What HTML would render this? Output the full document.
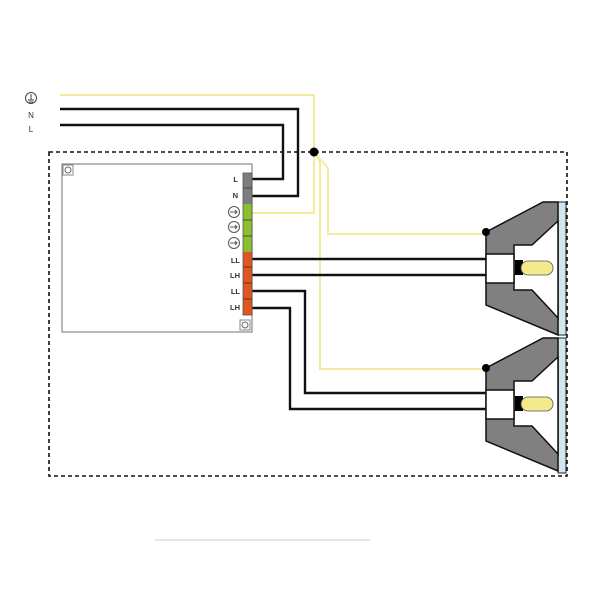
<!DOCTYPE html>
<html><head><style>body{margin:0;background:#fff}</style></head><body>
<svg width="600" height="600" viewBox="0 0 600 600" xmlns="http://www.w3.org/2000/svg" font-family="Liberation Sans, sans-serif">
<rect width="600" height="600" fill="#fff"/>
<!-- mains labels -->
<circle cx="31" cy="98" r="5.5" fill="none" stroke="#444" stroke-width="1"/>
<path d="M31 94v6M28 100h6M29 102h4" stroke="#444" stroke-width="1"/>
<text x="31" y="118" font-size="8" text-anchor="middle" fill="#333">N</text>
<text x="31" y="132" font-size="8" text-anchor="middle" fill="#333">L</text>
<!-- dashed box -->
<rect x="49" y="152" width="518" height="324" fill="none" stroke="#111" stroke-width="1.6" stroke-dasharray="4,3"/>
<!-- yellow wires -->
<g fill="none" stroke="#f3ec9c" stroke-width="2">
<path d="M60 95H314V213H252"/>
<path d="M314 152L328 168V234H486"/>
<path d="M314 152L320 162V369H486"/>
</g>
<circle cx="314" cy="152" r="4.5" fill="#000"/>
<!-- black mains -->
<g fill="none" stroke="#111" stroke-width="2.4">
<path d="M60 109H298V196H250"/>
<path d="M60 125H283V179H250"/>
<path d="M250 259H486M250 275H486"/>
<path d="M250 291H305V393H486"/>
<path d="M250 308H290V409H486"/>
</g>
<!-- module -->
<rect x="62" y="164" width="190" height="168" fill="#fff" stroke="#888" stroke-width="1.2"/>
<rect x="63" y="165" width="10" height="10" fill="#fff" stroke="#888"/><circle cx="68" cy="170" r="3" fill="none" stroke="#666"/>
<rect x="240" y="320" width="10" height="10" fill="#fff" stroke="#888"/><circle cx="245" cy="325" r="3" fill="none" stroke="#666"/>
<rect x="243" y="173" width="9" height="31" fill="#7d7d7d"/>
<rect x="243" y="204" width="9" height="48" fill="#8cbe2f"/>
<rect x="243" y="252" width="9" height="63" fill="#e0561e"/>
<path d="M243 188h9M243 220h9M243 236h9M243 267h9M243 283h9M243 299h9" stroke="#333" stroke-width="0.8"/>
<rect x="243" y="173" width="9" height="142" fill="none" stroke="#555" stroke-width="0.8"/>
<g font-size="7.5" fill="#333" text-anchor="end" font-weight="bold">
<text x="238" y="182">L</text><text x="238" y="198">N</text>
<text x="240" y="263">LL</text><text x="240" y="278">LH</text><text x="240" y="294">LL</text><text x="240" y="310">LH</text>
</g>
<g fill="none" stroke="#555" stroke-width="1">
<circle cx="234" cy="212" r="5.5"/><circle cx="234" cy="227" r="5.5"/><circle cx="234" cy="243" r="5.5"/>
<path d="M230 212h7M235 210l2 2-2 2M230 227h7M235 225l2 2-2 2M230 243h7M235 241l2 2-2 2"/>
</g>
<!-- glass -->
<rect x="558" y="202" width="8" height="133" fill="#cfe8f0" stroke="#222" stroke-width="1"/>
<rect x="558" y="338" width="8" height="135" fill="#cfe8f0" stroke="#222" stroke-width="1"/>
<!-- lamps -->
<g id="lamp">
<polygon points="486,232 543,202 558,202 558,335 486,305" fill="#808080" stroke="#111" stroke-width="1.5"/>
<polygon points="558,221 532,245 514,245 514,290 532,290 558,318" fill="#fff" stroke="#111" stroke-width="1.5"/>
<rect x="486" y="254" width="28" height="29" fill="#fff" stroke="#111" stroke-width="1.5"/>
<rect x="515" y="260" width="8" height="15" fill="#000"/>
<rect x="521" y="261" width="32" height="14" rx="7" fill="#f5e98e" stroke="#555" stroke-width="0.8"/>
<circle cx="486" cy="232" r="4" fill="#000"/>
</g>
<use href="#lamp" transform="translate(0,136)"/>
<line x1="155" y1="540" x2="370" y2="540" stroke="#e6e6e6" stroke-width="2"/>
</svg>
</body></html>
